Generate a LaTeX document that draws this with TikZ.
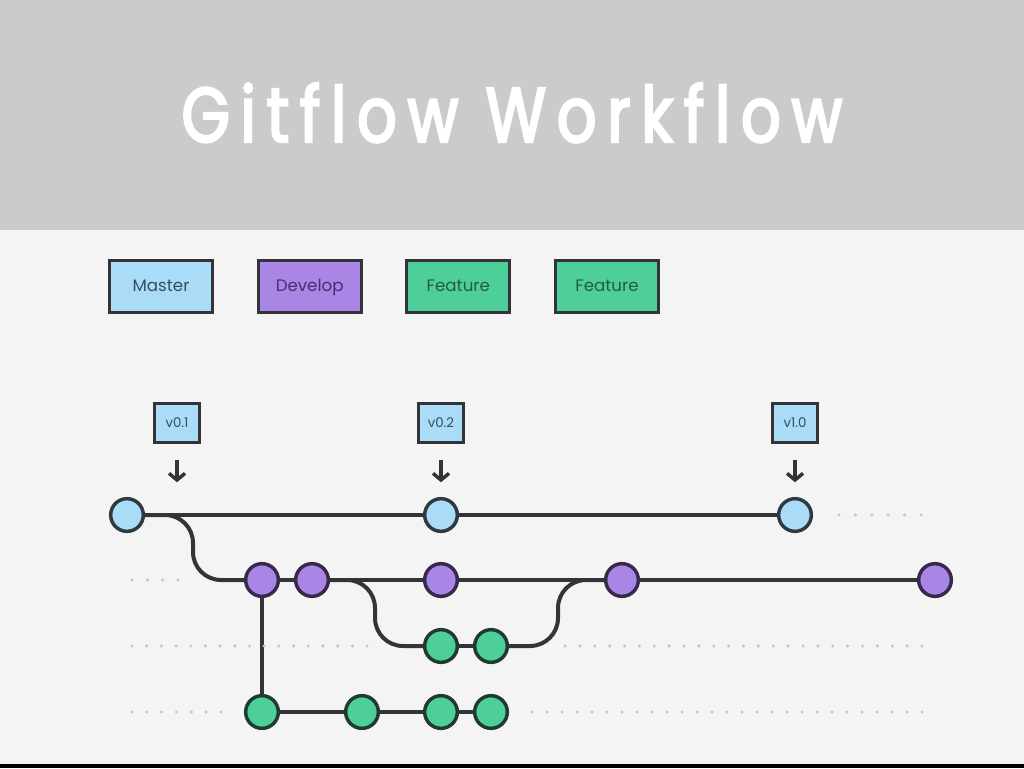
\documentclass[tikz,border=0pt]{standalone}
\usepackage{fontspec}
\setmainfont{Poppins}
\newfontfamily\titlefont{Poppins}[FakeStretch=0.8,LetterSpace=14,FakeBold=3]
\usetikzlibrary{arrows.meta,positioning,calc}
\definecolor{bandgray}{HTML}{CBCBCB}
\definecolor{paper}{HTML}{F4F4F4}
\definecolor{edge}{HTML}{333338}
\definecolor{dotgray}{HTML}{C6C6C6}
\definecolor{mastc}{HTML}{AADCF7}
\definecolor{mastd}{HTML}{2E3940}
\definecolor{mastt}{HTML}{34505F}
\definecolor{devc}{HTML}{A985E6}
\definecolor{devd}{HTML}{36294A}
\definecolor{devt}{HTML}{4A2D6E}
\definecolor{featc}{HTML}{4ECE98}
\definecolor{featd}{HTML}{1F3A2E}
\definecolor{featt}{HTML}{245C45}

\begin{document}
\begin{tikzpicture}[
      x=0.75pt, y=-0.75pt,
      legend/.style={rectangle,draw=edge,line width=2.25pt,minimum width=77.25pt,minimum height=39pt,text height=1.6ex,text depth=0.35ex,font=\fontsize{12.5}{14}\selectfont},
      tag/.style={rectangle,draw=edge,fill=mastc,line width=2.25pt,minimum width=33.75pt,minimum height=29.25pt,text=mastt,font=\fontsize{10}{12}\selectfont},
      commit/.style={circle,line width=2.6pt,minimum size=24.5pt,inner sep=0pt},
      mcommit/.style={commit,draw=mastd,fill=mastc},
      dcommit/.style={commit,draw=devd,fill=devc},
      fcommit/.style={commit,draw=featd,fill=featc},
      link/.style={draw=edge,line width=3pt},
      curvelink/.style={link,rounded corners=21pt},
      tagarrow/.style={draw=edge,line width=2.6pt,-{Straight Barb[length=5pt,width=12pt]},shorten <=12pt,shorten >=11pt},
      ]
      \useasboundingbox (0,0) rectangle (1024,768);
      \fill[paper] (0,0) rectangle (1024,768);
      \fill[bandgray] (0,0) rectangle (1024,230);
      \fill[black] (0,764) rectangle (1024,768);

      \node [text=white,anchor=base,font=\titlefont\fontsize{58}{60}\selectfont] (title) at (512,142) {Gitflow Workflow};

      % legend
      \node [legend,fill=mastc,text=mastt] (lmaster) at (161,286.5) {Master};
      \node [legend,fill=devc,text=devt,right=32pt of lmaster] (ldevelop) {Develop};
      \node [legend,fill=featc,text=featt,right=32pt of ldevelop] (lfeatA) {Feature};
      \node [legend,fill=featc,text=featt,right=32pt of lfeatA] (lfeatB) {Feature};

      % commits
      \node [mcommit] (m1) at (127,515) {};
      \node [mcommit] (m2) at (441,515) {};
      \node [mcommit] (m3) at (795,515) {};
      \node [dcommit] (d1) at (262,580) {};
      \node [dcommit] (d2) at (312,580) {};
      \node [dcommit] (d3) at (441,580) {};
      \node [dcommit] (d4) at (622,580) {};
      \node [dcommit] (d5) at (935,580) {};
      \node [fcommit] (fa1) at (441,646) {};
      \node [fcommit] (fa2) at (491,646) {};
      \node [fcommit] (fb1) at (262,712) {};
      \node [fcommit] (fb2) at (362,712) {};
      \node [fcommit] (fb3) at (441,712) {};
      \node [fcommit] (fb4) at (491,712) {};

      % tags
      \node [tag] (t01) at (177,423) {v0.1};
      \node [tag] (t02) at (441,423) {v0.2};
      \node [tag] (t10) at (795,423) {v1.0};
      \draw [tagarrow] (t01.south) -- (t01.south |- m1.north);
      \draw [tagarrow] (t02.south) -- (t02.south |- m2.north);
      \draw [tagarrow] (t10.south) -- (t10.south |- m3.north);

      % branches
      \path [link] (m1) -- (m2) -- (m3);
      \path [link] (d1) -- (d2) -- (d3) -- (d4) -- (d5);
      \path [link] (fa1) -- (fa2);
      \path [link] (fb1) -- (fb2) -- (fb3) -- (fb4);
      \path [link] (d1) -- (fb1);
      \path [curvelink] (m1.east) -| ([shift={(-69,0)}]d1.center) -- (d1.west);
      \path [curvelink] (d2.east) -| ([shift={(-66,0)}]fa1.center) -- (fa1.west);
      \path [curvelink] (fa2.east) -| ([shift={(-64,0)}]d4.center) -- (d4.west);

      % dotted leaders
      \foreach \xa/\xb/\n/\yy in {839/921/5/515, 132/178/3/580, 132/367/16/646, 565/922/24/646, 132/221/6/712, 532/922/26/712}
        \foreach \k in {0,...,\n} {
          \pgfmathsetmacro\xx{\xa+\k*(\xb-\xa)/\n}
          \fill [dotgray] (\xx,\yy) circle (1.3pt);
        }
\end{tikzpicture}
\end{document}
